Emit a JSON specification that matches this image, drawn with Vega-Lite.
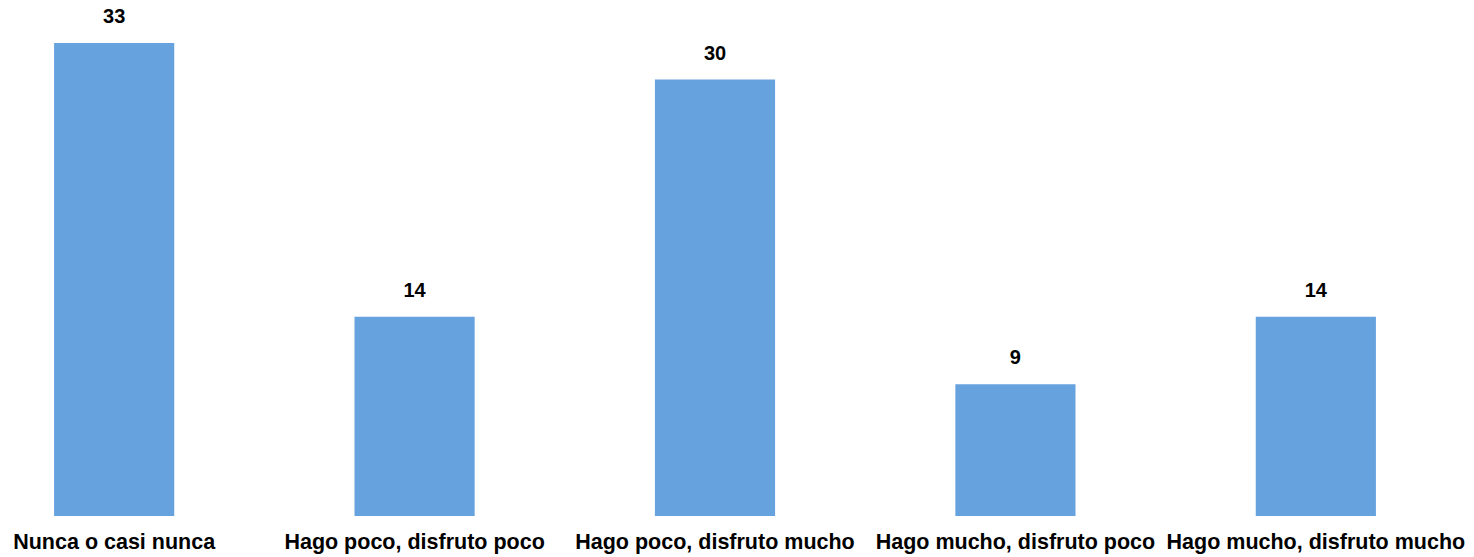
{
  "$schema": "https://vega.github.io/schema/vega-lite/v6.json",
  "autosize": {"type": "none"},
  "padding": {"left": 0, "top": 0, "right": 44, "bottom": 41},
  "width": 1430,
  "height": 516,
  "background": "white",
  "data": {
    "values": [
      {"categoria": "Nunca o casi nunca", "valor": 33.0},
      {"categoria": "Hago poco, disfruto poco", "valor": 13.9},
      {"categoria": "Hago poco, disfruto mucho", "valor": 30.45},
      {"categoria": "Hago mucho, disfruto poco", "valor": 9.2},
      {"categoria": "Hago mucho, disfruto mucho", "valor": 13.9}
    ]
  },
  "encoding": {
    "x": {
      "field": "categoria",
      "type": "nominal",
      "sort": null,
      "scale": {"paddingInner": 0.6, "paddingOuter": 0.18},
      "axis": {
        "title": null,
        "domain": false,
        "ticks": false,
        "tickSize": 0,
        "labelAngle": 0,
        "labelFont": "Liberation Sans",
        "labelFontSize": 21.5,
        "labelFontWeight": "bold",
        "labelColor": "black",
        "labelBaseline": "alphabetic",
        "labelPadding": 32.8,
        "labelLimit": 0,
        "labelOverlap": false
      }
    },
    "y": {
      "field": "valor",
      "type": "quantitative",
      "scale": {"domain": [0, 36], "nice": false},
      "axis": null
    }
  },
  "layer": [
    {"mark": {"type": "bar", "color": "#66a2de"}},
    {
      "mark": {
        "type": "text",
        "baseline": "alphabetic",
        "dy": -19.7,
        "font": "Liberation Sans",
        "fontSize": 20,
        "fontWeight": "bold",
        "color": "black"
      },
      "encoding": {"text": {"field": "valor", "type": "quantitative", "format": ".0f"}}
    }
  ],
  "config": {"view": {"stroke": null}}
}
